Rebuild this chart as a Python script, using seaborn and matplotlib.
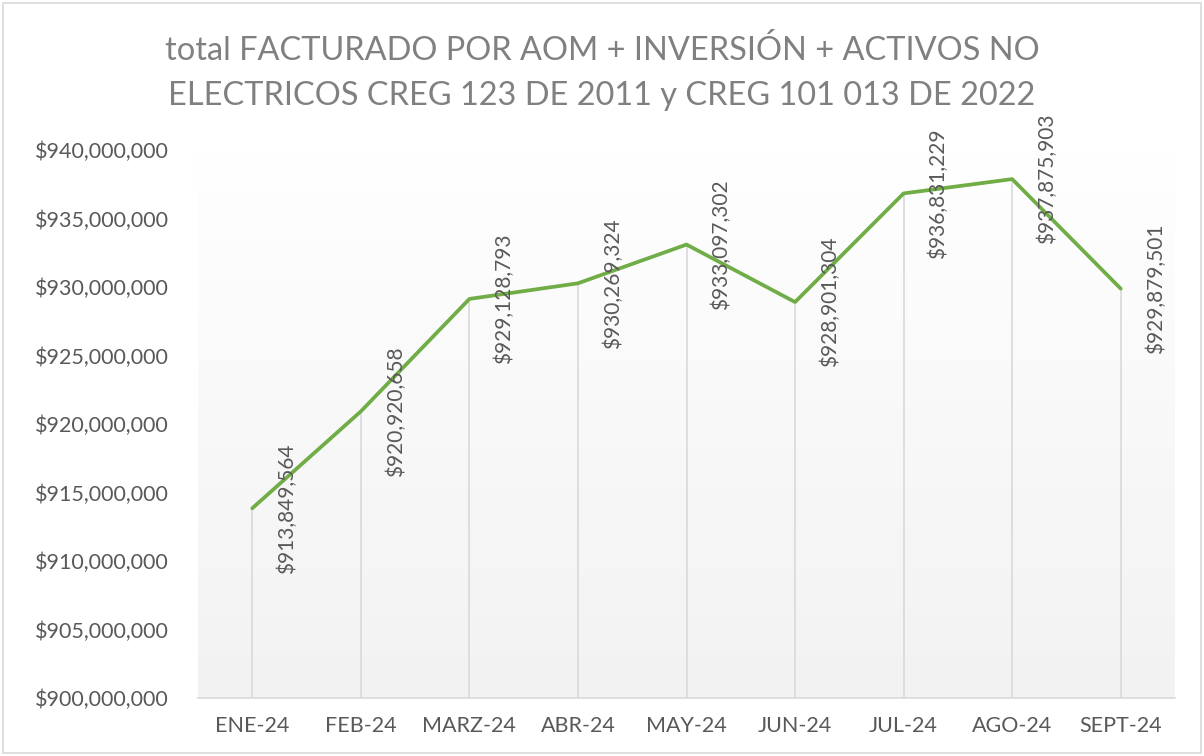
import numpy as np
import pandas as pd
import matplotlib
matplotlib.use("Agg")
import matplotlib.pyplot as plt
import seaborn as sns
from matplotlib.ticker import FuncFormatter
from matplotlib.patches import Rectangle
from matplotlib.colors import LinearSegmentedColormap

months = ["ENE-24", "FEB-24", "MARZ-24", "ABR-24", "MAY-24", "JUN-24", "JUL-24", "AGO-24", "SEPT-24"]
values = [913849564, 920920658, 929128793, 930269324, 933097302, 928901304, 936831229, 937875903, 929879501]
title_lines = ["total FACTURADO POR AOM + INVERSIÓN + ACTIVOS NO",
               "ELECTRICOS CREG 123 DE 2011 y CREG 101 013 DE 2022"]

sns.set_theme(style="white")
plt.rcParams['font.family'] = ['Lato', 'DejaVu Sans']

df = pd.DataFrame({"mes": months, "valor": values})

fig = plt.figure(figsize=(12.04, 7.56), dpi=100)
ax = fig.add_axes([198/1204, 1-698/756, (1175-198)/1204, (698-150)/756])

ymin, ymax = 900_000_000, 940_000_000
n = len(months)

# gradient background
grad = np.linspace(0, 1, 256).reshape(-1, 1)
cmap = LinearSegmentedColormap.from_list("g", ["#F2F2F2", "#FFFFFF"])
ax.imshow(grad, aspect="auto", cmap=cmap, origin="lower",
          extent=(-0.5, n - 0.5, ymin, ymax), zorder=0)

x = np.arange(n)
ax.vlines(x, ymin, df["valor"], colors="#D9D9D9", linewidth=1.2, zorder=1)

sns.lineplot(data=df, x="mes", y="valor", ax=ax, color="#70AD47", linewidth=2.7,
             sort=False, zorder=3)

for i, v in enumerate(values):
    ax.annotate(f"${v:,.0f}", xy=(i, v), xytext=(25, 0), textcoords="offset points",
                rotation=90, ha="center", va="center", fontsize=15, color="#595959", zorder=4)

ax.set_xlim(-0.5, n - 0.5)
ax.set_ylim(ymin, ymax)
ax.set_yticks(np.arange(ymin, ymax + 1, 5_000_000))
ax.yaxis.set_major_formatter(FuncFormatter(lambda v, p: f"${v:,.0f}"))
ax.set_xlabel("")
ax.set_ylabel("")
ax.tick_params(axis="both", colors="#595959", labelsize=15.5, length=0)
ax.tick_params(axis="y", pad=21)
ax.tick_params(axis="x", pad=13)
for s in ["top", "right", "left"]:
    ax.spines[s].set_visible(False)
ax.spines["bottom"].set_color("#D9D9D9")
ax.spines["bottom"].set_linewidth(1.2)
ax.grid(False)

fig.text(0.5, 1 - 50/756, title_lines[0], ha="center", va="center", fontsize=23.4, color="#808080")
fig.text(0.5, 1 - 96/756, title_lines[1], ha="center", va="center", fontsize=23.4, color="#808080")

fig.patches.append(Rectangle((3/1204, 3/756), 1 - 6/1204, 1 - 6/756, transform=fig.transFigure,
                             fill=False, edgecolor="#D9D9D9", linewidth=1.2))

fig.savefig("out.png", dpi=100)
